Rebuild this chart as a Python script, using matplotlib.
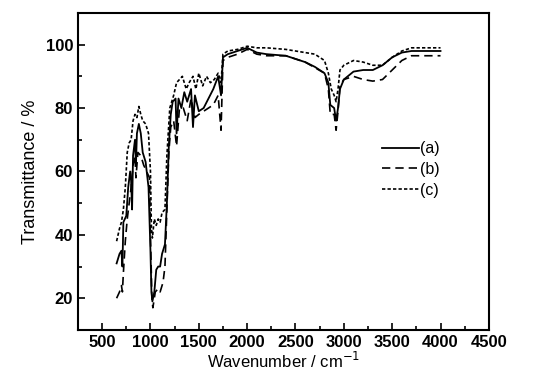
import numpy as np
import matplotlib.pyplot as plt
from matplotlib.ticker import MultipleLocator

plt.rcParams['font.family'] = ['Liberation Sans', 'DejaVu Sans']

# wavenumber (cm-1) and transmittance (%)
wn_a = [650, 680, 700, 710, 720, 750, 770, 790, 800, 810, 820, 840, 850, 860, 880, 900, 920, 950,
        980, 1000, 1010, 1020, 1040, 1060, 1080, 1100, 1120, 1150, 1170, 1190, 1210, 1230, 1260,
        1270, 1290, 1320, 1350, 1380, 1420, 1440, 1460, 1500, 1550, 1600, 1650, 1700, 1730, 1750,
        1800, 1900, 2000, 2100, 2200, 2400, 2600, 2700, 2800, 2840, 2860, 2900, 2920, 2940, 2960,
        3000, 3100, 3200, 3300, 3400, 3500, 3600, 3700, 4000]
t_a = [31, 34, 35, 30, 44, 46, 55, 60, 57, 48, 65, 70, 62, 72, 75, 72, 66, 63,
       55, 35, 22, 19, 22, 29, 30, 30, 34, 37, 50, 68, 78, 82, 83,
       72, 83, 80, 85, 82, 86, 74, 84, 79, 80, 83, 86, 90, 84, 96,
       97, 98, 99, 97.5, 97, 96.5, 94.5, 93, 91, 88, 81, 80, 76, 80, 86,
       89, 91.5, 92, 92, 93.5, 96, 97.5, 98, 98]

wn_b = [650, 680, 700, 710, 720, 740, 760, 780, 800, 820, 840, 850, 870, 900, 930, 960, 990,
        1000, 1015, 1025, 1050, 1080, 1100, 1130, 1150, 1170, 1190, 1210, 1240, 1270, 1300, 1340,
        1380, 1420, 1460, 1500, 1550, 1600, 1650, 1700, 1730, 1750, 1800, 1900, 2000, 2100, 2200,
        2400, 2600, 2800, 2840, 2860, 2900, 2920, 2940, 2960, 3000, 3100, 3200, 3300, 3400, 3500,
        3600, 3700, 4000]
t_b = [20, 22, 24, 22, 28, 38, 45, 50, 55, 62, 65, 58, 66, 65, 62, 60, 58,
       40, 20, 17, 22, 23, 22, 25, 30, 48, 66, 74, 76, 68, 80, 80,
       76, 83, 77, 78, 79, 80, 81, 84, 73, 95, 96, 97, 98.5, 97, 96.5,
       96.5, 94.5, 91, 86, 78, 78, 73, 79, 87, 89, 90, 89, 88.5, 89, 92,
       95, 96.5, 96.5]

wn_c = [650, 680, 700, 720, 740, 760, 780, 800, 820, 840, 860, 880, 900, 920, 950, 980, 1000,
        1010, 1020, 1040, 1060, 1080, 1100, 1120, 1150, 1170, 1200, 1240, 1270, 1300, 1330, 1370,
        1400, 1440, 1470, 1500, 1540, 1580, 1620, 1660, 1700, 1730, 1750, 1800, 1900, 2000, 2100,
        2200, 2400, 2600, 2700, 2800, 2840, 2870, 2900, 2920, 2940, 2960, 3000, 3100, 3200, 3300,
        3400, 3500, 3600, 3700, 4000]
t_c = [38, 42, 44, 48, 55, 66, 69, 70, 76, 78, 77, 80.5, 78, 76, 75, 72, 60,
       42, 39, 45, 43, 45, 44, 47, 48, 65, 80, 84, 88, 89, 90, 86,
       88, 90, 86, 91, 87, 90, 88, 89, 91, 88, 97, 98, 98.5, 99.5, 99,
       99, 98.5, 97.5, 97, 95, 91, 86, 84, 82, 86, 92, 93.5, 95, 94.5, 93.5,
       93.5, 96, 98, 99, 99]

labels = ['(a)', '(b)', '(c)']

fig = plt.figure(figsize=(5.45, 3.81), dpi=100)
ax = fig.add_axes([0.143, 0.134, 0.754, 0.832])

ax.plot(wn_a, t_a, color='black', lw=1.3, ls='-', label=labels[0])
ax.plot(wn_b, t_b, color='black', lw=1.2, ls=(0, (5, 3)), label=labels[1])
ax.plot(wn_c, t_c, color='black', lw=1.2, ls=(0, (2, 1.3)), label=labels[2])

ax.set_xlim(250, 4500)
ax.set_ylim(10, 110)
ax.xaxis.set_minor_locator(MultipleLocator(250))
ax.yaxis.set_minor_locator(MultipleLocator(10))
ax.set_xticks(np.arange(500, 4501, 500))
ax.set_yticks(np.arange(20, 101, 20))
ax.tick_params(which='both', direction='in', width=1.2, labelsize=12)
ax.tick_params(which='major', length=5)
ax.tick_params(which='minor', length=3)
for lab in ax.get_xticklabels() + ax.get_yticklabels():
    lab.set_fontweight('bold')
for s in ax.spines.values():
    s.set_linewidth(1.5)

ax.set_xlabel('Wavenumber / cm$^{-1}$', fontsize=12, labelpad=1)
ax.set_ylabel('Transmittance / %', fontsize=13, labelpad=5)

ax.legend(loc='upper left', bbox_to_anchor=(0.705, 0.64), frameon=False, fontsize=11.5,
          handlelength=2.3, handletextpad=0.1, labelspacing=0.35)

fig.savefig('out.png', dpi=100)
